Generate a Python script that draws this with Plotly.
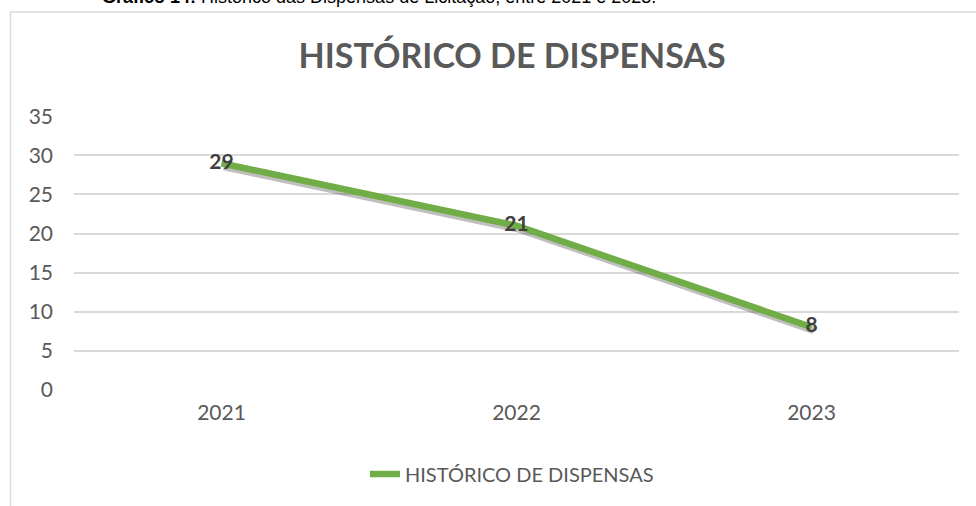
import plotly.graph_objects as go

years = ["2021", "2022", "2023"]
dispensas = [29, 21, 8]
y_ticks = [0, 5, 10, 15, 20, 25, 30, 35]
series_name = "HISTÓRICO DE DISPENSAS"
chart_title = "HISTÓRICO DE DISPENSAS"
caption = "<b>Gráfico 14:</b> Histórico das Dispensas de Licitação, entre 2021 e 2023."

W, H = 976, 506
L = 74
R = W - 959
T = 116
B = H - 390
pw, ph = W - L - R, H - T - B


def px_x(p):
    """page pixel -> paper x"""
    return (p - L) / pw


def px_y(p):
    """page pixel -> paper y"""
    return (H - B - p) / ph


x_idx = list(range(len(years)))
font = "Lato, 'Open Sans', sans-serif"

fig = go.Figure()
# soft shadow under the line
fig.add_trace(go.Scatter(
    x=[v + 0.008 for v in x_idx], y=[v - 0.45 for v in dispensas],
    mode="lines", line=dict(color="rgba(60,60,60,0.33)", width=7),
    showlegend=False, hoverinfo="skip"))
fig.add_trace(go.Scatter(
    x=x_idx, y=dispensas, name=series_name,
    mode="lines+text", text=[str(v) for v in dispensas],
    textposition="middle center",
    textfont=dict(family=font, size=21, color="#404040", weight="bold"),
    line=dict(color="#70AD47", width=6.5)))

fig.update_layout(
    width=W, height=H,
    margin=dict(l=L, r=R, t=T, b=B),
    paper_bgcolor="white", plot_bgcolor="white",
    font=dict(family=font, color="#595959", size=20),
    title=dict(text=chart_title, xref="container", yref="container",
               x=512 / W, xanchor="center",
               y=1 - 56 / H, yanchor="middle",
               font=dict(family=font, size=34, color="#595959", weight="bold")),
    xaxis=dict(range=[-0.5, 2.5], tickvals=x_idx, ticktext=years,
               showgrid=False, zeroline=False, showline=False,
               ticks="", ticklabelstandoff=8,
               tickfont=dict(size=21, color="#595959")),
    yaxis=dict(range=[-0.06, 35.06], tickvals=y_ticks, showgrid=True,
               gridcolor="#d9d9d9", gridwidth=1.5, zeroline=False,
               showline=False, ticks="", ticklabelstandoff=20,
               tickfont=dict(size=21, color="#595959")),
    legend=dict(orientation="h", x=px_x(365), xanchor="left",
                y=px_y(474), yanchor="middle",
                font=dict(size=20, color="#595959")),
    shapes=[dict(type="rect", xref="paper", yref="paper",
                 x0=px_x(10.5), x1=px_x(990), y0=px_y(530), y1=px_y(12),
                 line=dict(color="#d9d9d9", width=1.5), layer="below")],
    annotations=[dict(text=caption, xref="paper", yref="paper",
                      x=px_x(100), xanchor="left", y=px_y(-3), yanchor="middle",
                      showarrow=False,
                      font=dict(family="'Liberation Sans', Arial, sans-serif",
                                size=18, color="#000000"))],
)

fig.write_html(
    "out.html",
    config={"displayModeBar": False},
    post_script="document.body.style.margin='0';document.body.style.overflow='hidden';",
)
